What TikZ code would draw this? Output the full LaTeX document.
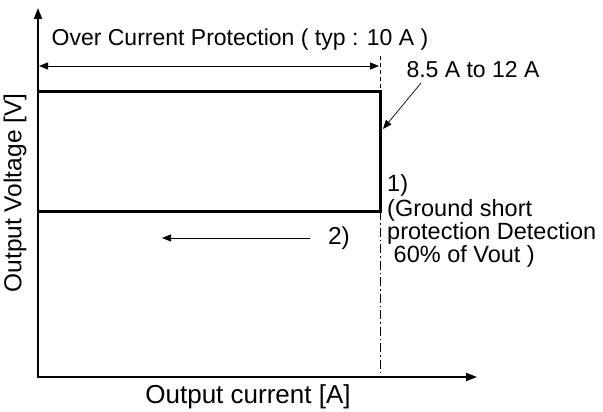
\documentclass[tikz,border=0pt]{standalone}
\usepackage{fontspec}
\setmainfont{Liberation Sans}
\usetikzlibrary{arrows.meta,positioning}

\begin{document}
\begin{tikzpicture}[x=1pt,y=-1pt,
 axis/.style={line width=2pt, line join=miter, {Triangle[length=11pt,width=8pt]}-{Triangle[length=11pt,width=8pt]}},
 limit/.style={line width=3pt, line join=miter},
 dimline/.style={line width=0.9pt, {Triangle[length=9pt,width=7pt]}-{Triangle[length=9pt,width=7pt]}},
 pointer/.style={line width=0.7pt, -{Triangle[length=9pt,width=7pt]}},
 lbl/.style={font=\fontsize{23}{23}\selectfont, inner sep=0pt},
 side lbl/.style={font=\fontsize{23.5}{23.5}\selectfont, inner sep=0pt},
 big lbl/.style={font=\fontsize{24.5}{24.5}\selectfont, inner sep=0pt}
]
\useasboundingbox (0,0) rectangle (603,412);

% axes
\coordinate (ytop) at (38,8);
\coordinate (o) at (38,377);
\coordinate (xend) at (477,377);
\draw[axis] (ytop) -- (o) -- (xend);

% limit curve
\coordinate (tl) at (38,92);
\coordinate (tr) at (380,92);
\coordinate (br) at (380,211);
\coordinate (bl) at (38,211);
\draw[limit] (tl) -- (tr) -- (br) -- (bl);

% ocp marker
\coordinate (mtop) at (380,56);
\coordinate (mbot) at (380,373);
\draw[dashed, line width=0.7pt, dash pattern=on 4pt off 3pt] (mtop) -- (tr);
\draw[dash dot, line width=0.7pt, dash pattern=on 9pt off 3pt on 1.5pt off 3pt] (br) -- (mbot);

\coordinate (dl) at (39,66);
\coordinate (dr) at (379,66);
\draw[dimline] (dl) -- (dr);
\node[lbl] (ocp) at (240,40) {Over Current Protection ( typ : 10 A )};

\node[lbl] (range) at (473,70) {8.5 A to 12 A};
\coordinate (rtip) at (383,129);
\draw[pointer] (421,83) -- (rtip);

% ground short
\node[side lbl, anchor=west] (one) at (387,185) {1)};
\node[side lbl, anchor=west] (gnd1) at (387,210) {(Ground short};
\node[side lbl, anchor=west] (gnd2) at (387,233) {protection Detection};
\node[side lbl, anchor=west] (gnd3) at (387,256) {\ 60\% of Vout )};

\node[big lbl] (two) at (339,238) {2)};
\coordinate (back) at (162,238);
\draw[pointer] (310,238) -- (back);

% axis labels
\node[big lbl, font=\fontsize{26}{26}\selectfont] (xlab) at (248,397) {Output current [A]};
\node[big lbl, rotate=90] (ylab) at (15,193) {Output Voltage [V]};
\end{tikzpicture}
\end{document}
